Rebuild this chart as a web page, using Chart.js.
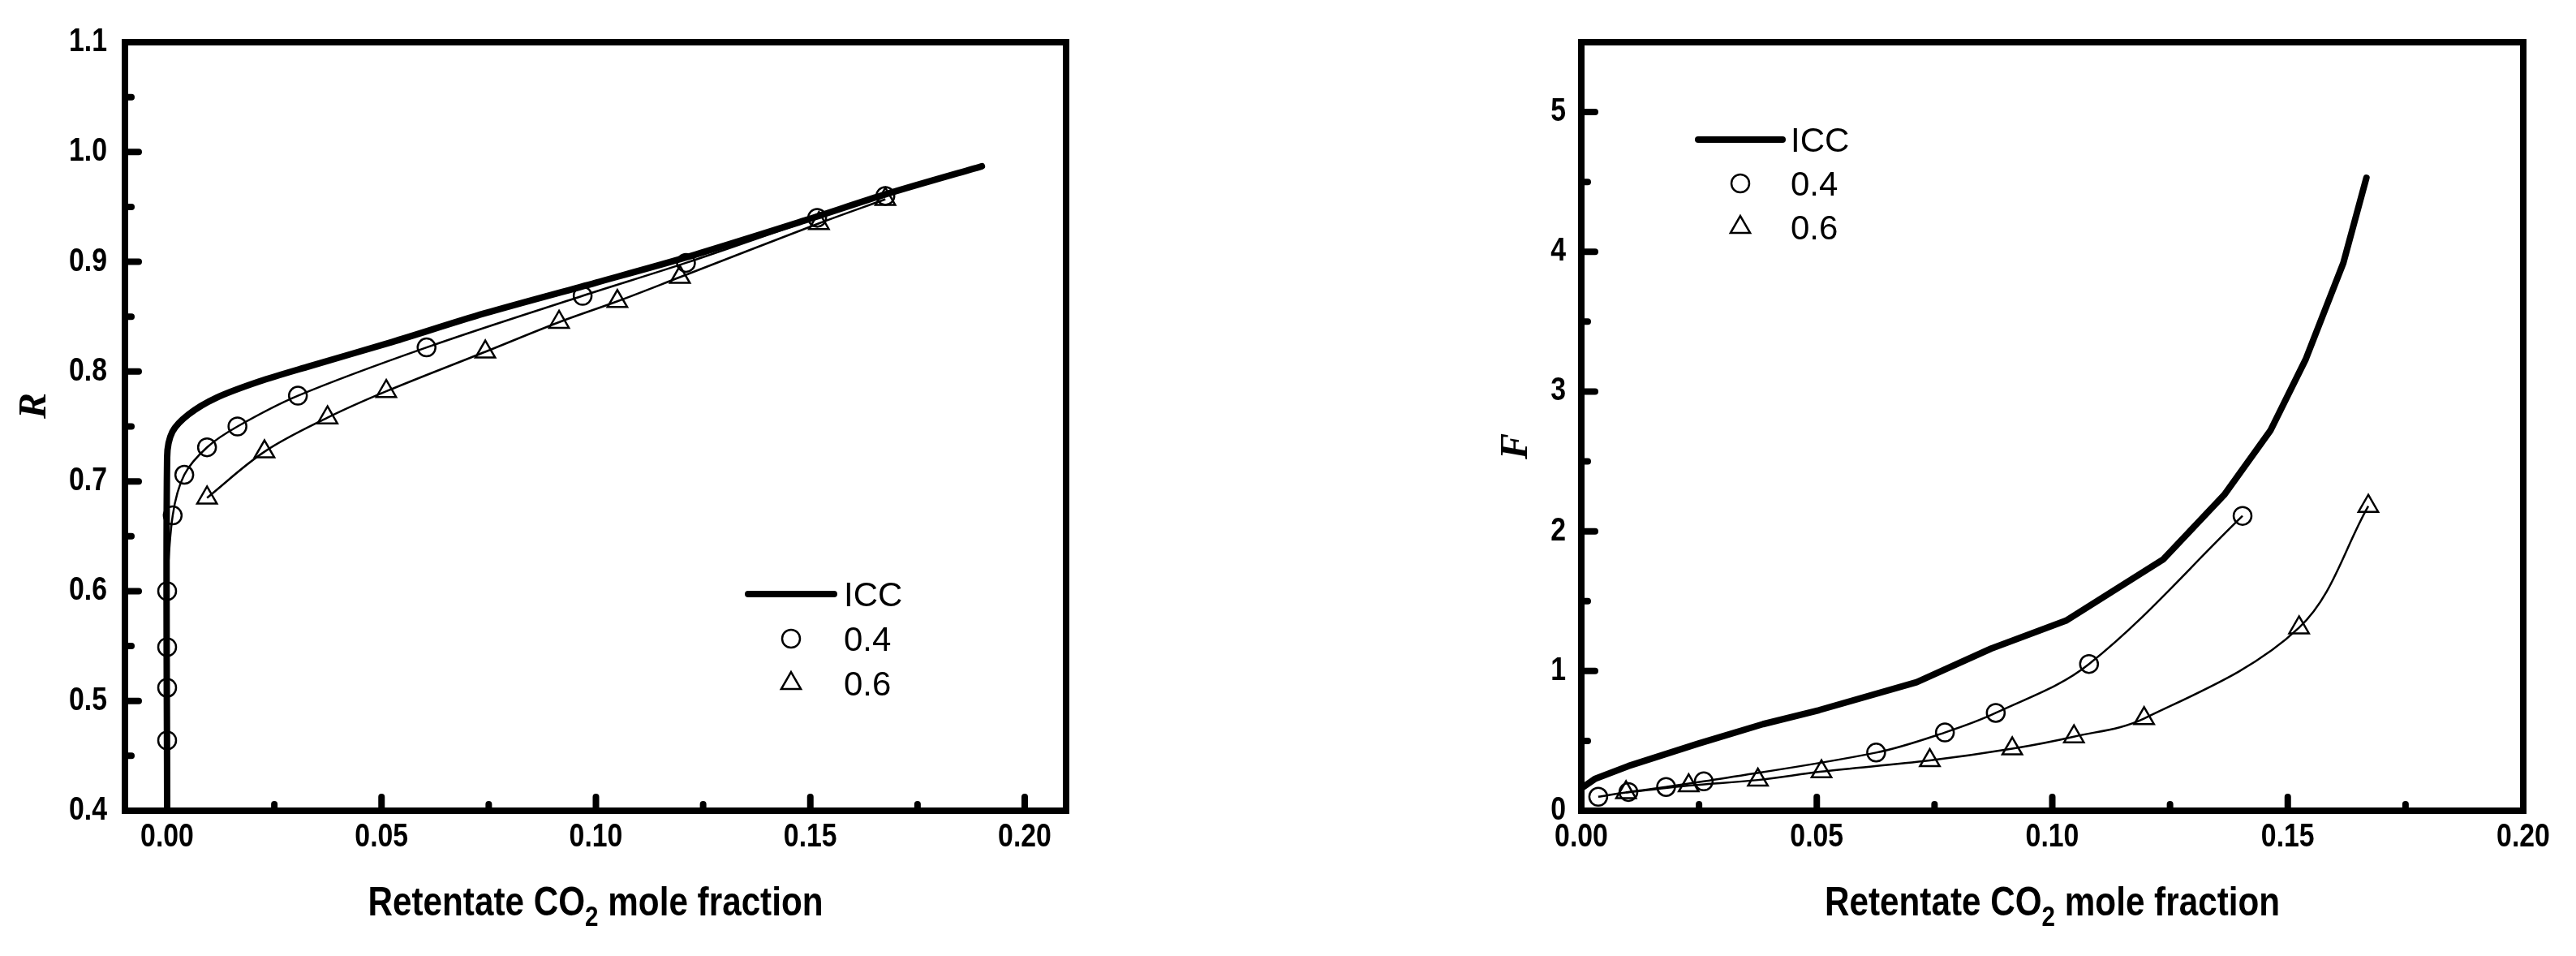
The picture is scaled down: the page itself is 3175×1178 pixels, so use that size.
<!DOCTYPE html>
<html><head><meta charset="utf-8">
<script src="https://cdn.jsdelivr.net/npm/chart.js@4.4.1/dist/chart.umd.min.js"></script>
<style>
html,body{margin:0;padding:0;background:#fff;}
#wrap{position:relative;width:3175px;height:1178px;background:#fff;}
canvas{position:absolute;top:0;}
</style>
</head><body>
<div id="wrap">
<canvas id="cL" width="1560" height="1178" style="left:0px"></canvas>
<canvas id="cR" width="1615" height="1178" style="left:1560px"></canvas>
</div>
<script>
// ---------------- DATA ----------------
// Left panel: R vs retentate CO2 mole fraction
const leftIccX = [0, 0, 0.0012, 0.005, 0.0114, 0.0215, 0.0333, 0.0525, 0.074, 0.100, 0.121, 0.149, 0.168, 0.190];
const leftIccY = [0.4, 0.722, 0.745, 0.761, 0.776, 0.791, 0.805, 0.827, 0.853, 0.881, 0.904, 0.938, 0.962, 0.987];
const left04X = [0, 0, 0, 0, 0.0013, 0.004, 0.0093, 0.0164, 0.0305, 0.0605, 0.0969, 0.121, 0.1516, 0.1675];
const left04Y = [0.464, 0.512, 0.549, 0.600, 0.669, 0.706, 0.731, 0.750, 0.778, 0.822, 0.869, 0.899, 0.940, 0.960];
const left06X = [0.0093, 0.0227, 0.0374, 0.0511, 0.0742, 0.0914, 0.105, 0.1196, 0.152, 0.1675];
const left06Y = [0.685, 0.727, 0.758, 0.782, 0.818, 0.845, 0.864, 0.886, 0.935, 0.957];
const leftXTicks = [0, 0.05, 0.10, 0.15, 0.20];
const leftXTickLabels = ['0.00', '0.05', '0.10', '0.15', '0.20'];
const leftXMinor = [0.025, 0.075, 0.125, 0.175];
const leftYTicks = [0.4, 0.5, 0.6, 0.7, 0.8, 0.9, 1.0, 1.1];
const leftYTickLabels = ['0.4', '0.5', '0.6', '0.7', '0.8', '0.9', '1.0', '1.1'];
const leftYMinor = [0.45, 0.55, 0.65, 0.75, 0.85, 0.95, 1.05];

// Right panel: F vs retentate CO2 mole fraction
const rightIccX = [0, 0.003, 0.010, 0.0248, 0.0386, 0.0505, 0.0712, 0.087, 0.1029, 0.1236, 0.1365, 0.1463, 0.1538, 0.1618, 0.1667];
const rightIccY = [0.16, 0.23, 0.32, 0.48, 0.62, 0.72, 0.92, 1.16, 1.36, 1.80, 2.26, 2.72, 3.23, 3.92, 4.53];
const right04X = [0.0036, 0.010, 0.018, 0.026, 0.0626, 0.0772, 0.088, 0.1078, 0.1404];
const right04Y = [0.10, 0.134, 0.17, 0.21, 0.416, 0.56, 0.70, 1.05, 2.11];
const right06X = [0.0095, 0.0228, 0.0375, 0.051, 0.074, 0.0915, 0.1046, 0.1195, 0.1524, 0.1671];
const right06Y = [0.13, 0.18, 0.22, 0.28, 0.36, 0.444, 0.53, 0.66, 1.31, 2.18];
const rightXTicks = [0, 0.05, 0.10, 0.15, 0.20];
const rightXTickLabels = ['0.00', '0.05', '0.10', '0.15', '0.20'];
const rightXMinor = [0.025, 0.075, 0.125, 0.175];
const rightYTicks = [0, 1, 2, 3, 4, 5];
const rightYTickLabels = ['0', '1', '2', '3', '4', '5'];
const rightYMinor = [0.5, 1.5, 2.5, 3.5, 4.5];

const seriesLabels = ['ICC', '0.4', '0.6'];
const xTitleParts = ['Retentate CO', '2', ' mole fraction'];

// ---------------- HELPERS ----------------
const TICK_FAMILY = "'Liberation Sans', Arial, sans-serif";
const LEG_FAMILY = "'Liberation Sans', Arial, sans-serif";
const SQUEEZE = 0.845;   // narrow-looking bold text of the original
const zip = (xs, ys) => xs.map((x, i) => ({x: x, y: ys[i]}));

// draw a scale's tick labels horizontally condensed, keeping their positions
function condenseLabels(s) {
  if (s._condensed) return;
  s._condensed = true;
  s._computeLabelArea = function () { return undefined; };
  const orig = s.drawLabels;
  s.drawLabels = function (area) {
    const items = this.getLabelItems(area);
    items.forEach(it => {
      if (!it._adj) { it.options.translation = [it.options.translation[0] / SQUEEZE, it.options.translation[1]]; it._adj = true; }
    });
    const ctx = this.ctx;
    ctx.save();
    ctx.scale(SQUEEZE, 1);
    orig.call(this, area);
    ctx.restore();
  };
}

const framePlugin = {
  id: 'frameTicks',
  afterDatasetsDraw(chart, args, o) {
    const ctx = chart.ctx;
    const {left, right, top, bottom} = chart.chartArea;
    const xs = chart.scales.x, ys = chart.scales.y;
    ctx.save();
    ctx.strokeStyle = '#000';
    ctx.lineWidth = 8;
    ctx.lineCap = 'round';
    const seg = (a, b, c, d) => { ctx.beginPath(); ctx.moveTo(a, b); ctx.lineTo(c, d); ctx.stroke(); };
    o.xMajor.forEach(v => { const p = xs.getPixelForValue(v); seg(p, bottom, p, bottom - 17); });
    o.xMinor.forEach(v => { const p = xs.getPixelForValue(v); seg(p, bottom, p, bottom - 8); });
    o.yMajor.forEach(v => { const p = ys.getPixelForValue(v); seg(left, p, left + 17, p); });
    o.yMinor.forEach(v => { const p = ys.getPixelForValue(v); seg(left, p, left + 8, p); });
    ctx.lineCap = 'butt';
    ctx.lineJoin = 'miter';
    ctx.strokeRect(left, top, right - left, bottom - top);
    ctx.restore();
  },
  afterDraw(chart, args, o) {
    const ctx = chart.ctx;
    const {left, right, top, bottom} = chart.chartArea;
    ctx.save();
    ctx.fillStyle = '#000';
    // x-axis title with subscript (condensed bold)
    const big = "bold " + o.titleSize + "px " + TICK_FAMILY;
    const small = "bold " + Math.round(o.titleSize * 0.7) + "px " + TICK_FAMILY;
    ctx.font = big; const w0 = ctx.measureText(o.xTitle[0]).width; const w2 = ctx.measureText(o.xTitle[2]).width;
    ctx.font = small; const w1 = ctx.measureText(o.xTitle[1]).width;
    const cx = (left + right) / 2 + o.titleDx;
    ctx.save();
    ctx.translate(cx, 0);
    ctx.scale(SQUEEZE, 1);
    let x = -(w0 + w1 + w2) / 2;
    const by = o.titleBaseline;
    ctx.textBaseline = 'alphabetic'; ctx.textAlign = 'left';
    ctx.font = big; ctx.fillText(o.xTitle[0], x, by); x += w0;
    ctx.font = small; ctx.fillText(o.xTitle[1], x, by + o.subDrop); x += w1;
    ctx.font = big; ctx.fillText(o.xTitle[2], x, by);
    ctx.restore();
    // y-axis title (italic serif, rotated)
    ctx.save();
    ctx.translate(o.yTitleX, o.yTitleY);
    ctx.rotate(-Math.PI / 2);
    ctx.font = "italic bold " + o.yTitleSize + "px 'Liberation Serif', 'Times New Roman', serif";
    ctx.textAlign = 'center'; ctx.textBaseline = 'middle';
    ctx.fillText(o.yTitle, 0, 0);
    ctx.restore();
    // legend
    const L = o.legend;
    const ds = chart.data.datasets;
    ds.forEach((d, i) => {
      const ry = L.y + i * L.dy;
      if (i === 0) {
        ctx.lineWidth = 8; ctx.lineCap = 'round'; ctx.strokeStyle = '#000';
        ctx.beginPath(); ctx.moveTo(L.x1, ry); ctx.lineTo(L.x2, ry); ctx.stroke();
      } else {
        ctx.fillStyle = 'rgba(0,0,0,0)';
        ctx.strokeStyle = '#000'; ctx.lineWidth = 2.5;
        Chart.helpers.drawPoint(ctx, {pointStyle: d.pointStyle, radius: d.pointRadius, borderWidth: 2.5, rotation: 0},
          (L.x1 + L.x2) / 2, ry);
      }
      ctx.fillStyle = '#000';
      ctx.font = "42px " + LEG_FAMILY;
      ctx.textAlign = 'left'; ctx.textBaseline = 'alphabetic';
      ctx.fillText(d.label, L.tx, ry + 15);
    });
    ctx.restore();
  }
};

function makeChart(id, cfg) {
  const fixW = cfg.yWidth, fixH = cfg.xHeight;
  const tickFont = {family: TICK_FAMILY, size: 40, weight: 'bold'};
  return new Chart(document.getElementById(id), {
    type: 'line',
    data: {
      datasets: [
        {label: seriesLabels[0], data: cfg.icc, borderColor: '#000', borderWidth: 8, pointRadius: 0,
         tension: cfg.iccTension, fill: false, borderCapStyle: 'round', borderJoinStyle: 'round'},
        {label: seriesLabels[1], data: cfg.s04, borderColor: '#000', borderWidth: 2.5, pointStyle: 'circle',
         pointRadius: 11, pointBorderWidth: 2.5, pointBackgroundColor: 'rgba(0,0,0,0)', pointBorderColor: '#000',
         tension: 0.35, fill: false},
        {label: seriesLabels[2], data: cfg.s06, borderColor: '#000', borderWidth: 2.5, pointStyle: 'triangle',
         pointRadius: 14, pointBorderWidth: 2.5, pointBackgroundColor: 'rgba(0,0,0,0)', pointBorderColor: '#000',
         tension: 0.35, fill: false}
      ]
    },
    options: {
      responsive: false,
      animation: false,
      devicePixelRatio: 1,
      layout: {padding: {top: cfg.padTop, right: cfg.padRight, left: 0, bottom: 0}},
      plugins: {
        legend: {display: false},
        tooltip: {enabled: false},
        frameTicks: cfg.frame
      },
      scales: {
        x: {
          type: 'linear', min: cfg.xMin, max: cfg.xMax,
          grid: {display: false, drawTicks: false},
          border: {display: false},
          afterBuildTicks: s => { s.ticks = cfg.xTicks.map(v => ({value: v})); },
          afterFit: s => { s.height = fixH; },
          afterUpdate: condenseLabels,
          ticks: {autoSkip: false, maxRotation: 0, minRotation: 0, padding: cfg.xPad, color: '#000', font: tickFont,
                  callback: (v, i) => cfg.xLabels[i]}
        },
        y: {
          type: 'linear', min: cfg.yMin, max: cfg.yMax,
          grid: {display: false, drawTicks: false},
          border: {display: false},
          afterBuildTicks: s => { s.ticks = cfg.yTicks.map(v => ({value: v})); },
          afterFit: s => { s.width = fixW; },
          afterUpdate: condenseLabels,
          ticks: {autoSkip: false, padding: cfg.yPad, color: '#000', font: tickFont,
                  callback: (v, i) => cfg.yLabels[i]}
        }
      }
    },
    plugins: [framePlugin]
  });
}

makeChart('cL', {
  icc: zip(leftIccX, leftIccY), s04: zip(left04X, left04Y), s06: zip(left06X, left06Y),
  iccTension: 0.3,
  xMin: -0.00984, xMax: 0.20965, yMin: 0.4, yMax: 1.1,
  xTicks: leftXTicks, xLabels: leftXTickLabels, yTicks: leftYTicks, yLabels: leftYTickLabels,
  yWidth: 154, xHeight: 179, padTop: 52, padRight: 246, xPad: 9, yPad: 22,
  frame: {
    xMajor: leftXTicks, xMinor: leftXMinor, yMajor: leftYTicks, yMinor: leftYMinor,
    xTitle: xTitleParts, titleSize: 50, titleDx: 0, titleBaseline: 1128, subDrop: 13,
    yTitle: 'R', yTitleX: 44, yTitleY: 500, yTitleSize: 48,
    legend: {x1: 922, x2: 1028, tx: 1040, y: 732, dy: 55}
  }
});

makeChart('cR', {
  icc: zip(rightIccX, rightIccY), s04: zip(right04X, right04Y), s06: zip(right06X, right06Y),
  iccTension: 0,
  xMin: 0, xMax: 0.20, yMin: 0, yMax: 5.5,
  xTicks: rightXTicks, xLabels: rightXTickLabels, yTicks: rightYTicks, yLabels: rightYTickLabels,
  yWidth: 389, xHeight: 179, padTop: 52, padRight: 65, xPad: 9, yPad: 19,
  frame: {
    xMajor: rightXTicks, xMinor: rightXMinor, yMajor: rightYTicks, yMinor: rightYMinor,
    xTitle: xTitleParts, titleSize: 50, titleDx: 0, titleBaseline: 1128, subDrop: 13,
    yTitle: 'F', yTitleX: 310, yTitleY: 550, yTitleSize: 48,
    legend: {x1: 533, x2: 637, tx: 647, y: 172, dy: 54}
  }
});
</script>
</body></html>
